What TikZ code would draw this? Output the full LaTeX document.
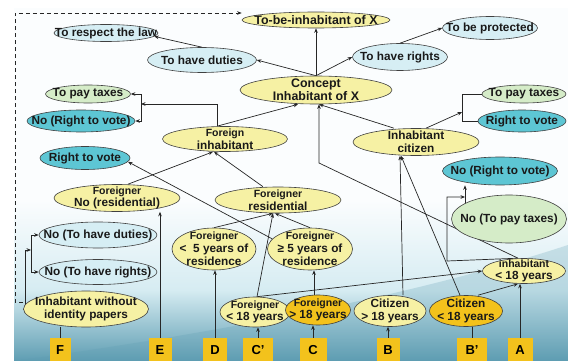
\documentclass[tikz,border=0pt]{standalone}
\usepackage{fontspec}
\setmainfont{Liberation Sans}
\usetikzlibrary{shapes.geometric,arrows.meta}
\pgfdeclarelayer{bg}
\pgfdeclarelayer{edges}
\pgfsetlayers{bg,edges,main}
\definecolor{yel}{HTML}{F6F1A4}
\definecolor{gold}{HTML}{F3C21C}
\definecolor{blu}{HTML}{D6EEF4}
\definecolor{tealc}{HTML}{5DC6D4}
\definecolor{grn}{HTML}{D5ECC8}
\definecolor{bgtop}{HTML}{FBFDFE}
\definecolor{bgmid}{HTML}{D6ECF2}
\definecolor{bgbot}{HTML}{5E9DB2}
\newcommand\sm{\fontsize{10.5}{12.5}\selectfont}
\newcommand\bg{\fontsize{12.4}{13.2}\selectfont}
\newcommand\bub[6]{%
  \node[#2, minimum width=#3pt, minimum height=#4pt] (#1) at (#5) {};
  \node[txt] (#1-t) at (#1) {#6};}
\begin{document}
\begin{tikzpicture}[x=1pt,y=-1pt,
  base/.style={ellipse, draw=black!75, line width=0.6pt, inner sep=0pt},
  yelb/.style={base, fill=yel},
  goldb/.style={base, fill=gold},
  blub/.style={base, fill=blu},
  tealb/.style={base, fill=tealc},
  grnb/.style={base, fill=grn},
  txt/.style={inner sep=0pt, align=center, text=black!90, font=\bfseries\fontsize{11.8}{12.8}\selectfont},
  sq/.style={fill=gold, inner sep=0pt, minimum height=24pt, font=\bfseries\fontsize{13}{14}\selectfont},
  ln/.style={draw=black!85, line width=0.7pt},
  arr/.style={ln, -{Stealth[length=4.5pt,width=3.6pt]}},
  dsh/.style={ln, dash pattern=on 4pt off 3pt}
]
\useasboundingbox (0,0) rectangle (568,361);
\begin{pgfonlayer}{bg}
  \fill[white] (0,0) rectangle (568,361);
  \fill[bgtop] (14,8) rectangle (568,200);
  \shade[top color=bgtop, bottom color=bgmid] (14,200) rectangle (568,290);
  \shade[top color=bgmid, bottom color=bgbot] (14,290) rectangle (568,361);
  \fill[bgbot, opacity=0.25] (14,361) .. controls (200,335) and (400,300) .. (568,245) -- (568,361) -- cycle;
\end{pgfonlayer}

\bub{tobe}{yelb}{148}{16}{316,20}{\bg To-be-inhabitant of X}
\bub{law}{blub}{104}{17}{106,33}{To respect the law}
\bub{duties}{blub}{109}{25}{202,60}{To have duties}
\bub{rights}{blub}{95}{27}{400,57}{To have rights}
\bub{protect}{blub}{95}{23}{490,28}{To be protected}
\bub{concept}{yelb}{152}{28}{316,90}{\bg Concept\\\bg Inhabitant of X}
\bub{taxL}{grnb}{85}{18}{88,94}{To pay taxes}
\bub{noVoteL}{tealb}{108}{22}{81,121}{No (Right to vote)}
\bub{voteL}{tealb}{90}{23}{85,158}{Right to vote}
\bub{finh}{yelb}{125}{25}{225,139}{{\sm Foreign}\\inhabitant}
\bub{cit}{yelb}{126}{27}{416,142}{Inhabitant\\citizen}
\bub{taxR}{grnb}{84}{18}{524,94}{To pay taxes}
\bub{voteR}{tealb}{88}{22}{522,121}{Right to vote}
\bub{noVoteR}{tealb}{115}{28}{500,171}{No (Right to vote)}
\bub{noTax}{grnb}{115}{48}{509,219}{No (To pay taxes)}
\bub{fnores}{yelb}{126}{27}{117,198}{{\sm Foreigner}\\No (residential)}
\bub{fres}{yelb}{126}{26}{278,200}{{\sm Foreigner}\\residential}
\bub{noDut}{blub}{118}{26}{98,235}{No (To have duties)}
\bub{noRig}{blub}{118}{25}{98,272}{No (To have rights)}
\bub{flt5}{yelb}{84}{42}{214,249}{{\sm Foreigner}\\<\ \ 5 years of\\residence}
\bub{fge5}{yelb}{85}{42}{310,249}{{\sm Foreigner}\\≥ 5 years of\\residence}
\bub{papers}{yelb}{125}{36}{86,309}{Inhabitant without\\identity papers}
\bub{flt18}{yelb}{70}{30}{255,312}{{\sm Foreigner}\\< 18 years}
\bub{fgt18}{goldb}{65}{30}{318,310}{{\sm Foreigner}\\> 18 years}
\bub{cgt18}{yelb}{72}{31}{390,311}{Citizen\\> 18 years}
\bub{clt18}{goldb}{73}{31}{466,311}{Citizen\\< 18 years}
\bub{inh18}{yelb}{83}{25}{524,271}{{\sm inhabitant}\\< 18 years}

\node[sq, minimum width=21pt] (F) at (60,350) {F};
\node[sq, minimum width=23pt] (E) at (160,350) {E};
\node[sq, minimum width=24pt] (D) at (215,350) {D};
\node[sq, minimum width=30pt] (Cp) at (258,350) {C'};
\node[sq, minimum width=27pt] (C) at (313,350) {C};
\node[sq, minimum width=23pt] (B) at (388,350) {B};
\node[sq, minimum width=30pt] (Bp) at (472,350) {B'};
\node[sq, minimum width=25pt] (A) at (520,350) {A};

\coordinate (dc) at (15,13);
\coordinate (j1a) at (25,250);
\coordinate (j1) at (31,250);
\coordinate (j2) at (141,104);
\coordinate (k1) at (319,163);
\coordinate (k2) at (447,261);
\coordinate (j3) at (465,197);
\coordinate (j3b) at (465,211);
\coordinate (j3c) at (473,211);
\coordinate (j4) at (462,112);

\begin{pgfonlayer}{edges}
\draw[arr] (concept.north) -- (tobe.south);
\draw[arr] (concept.north) -- (duties.east);
\draw[arr] (concept.north) -- (rights.west);
\draw[arr] (duties.north) -- (law.-4);
\draw[arr] (rights.north) -- (protect.west);
\draw[dsh,-{Stealth[length=4.5pt,width=3.6pt]}] ([yshift=7pt]papers.west) -| (dc) -- ([yshift=7pt]tobe.west);
\draw[arr] (papers.west) -| (j1a) -- (j1);
\draw[arr] (j1) |- (noDut.west);
\draw[arr] (j1) |- (noRig.west);
\draw[arr] ([xshift=-8pt]finh.north) |- (j2);
\draw[arr] (j2) |- (taxL.east);
\draw[arr] (j2) |- (noVoteL.east);
\draw[arr] ([xshift=-8pt]finh.north) -- ([xshift=-18pt]concept.south);
\draw[arr] ([xshift=-22pt]cit.north) -- ([xshift=3pt]concept.south);
\draw[arr] ([xshift=-6pt]inh18.north) -- (k1) -- ([xshift=3pt]concept.south);
\draw[arr] ([xshift=-6pt]inh18.north) -- (k2) |- (j3);
\draw[arr] (j3) -- (j3 |- noVoteR.south);
\draw[arr] (j3) -- (j3b) -- (j3c);
\draw[arr] ([xshift=10pt]cit.north) -- (j4);
\draw[ln] (j4) |- (taxR.west);
\draw[ln] (j4) |- (voteR.west);
\draw[arr] ([xshift=11pt]fnores.north) -- ([xshift=-12pt]finh.south);
\draw[arr] ([xshift=-15pt]fres.north) -- ([xshift=-11pt]finh.south);
\draw[arr] (flt5.north) -- ([xshift=-5pt]fres.south);
\draw[arr] (fge5.north) -- ([xshift=-3pt]fres.south);
\draw[arr] ([xshift=2pt]flt18.north) -- ([xshift=-5pt]fres.south);
\draw[arr] (fge5.165) -- (voteL.-5);
\draw[arr] ([xshift=2pt]flt18.north) -- (inh18.west);
\draw[arr] ([xshift=-4pt]fgt18.north) -- ([xshift=4pt]fge5.south);
\draw[arr] ([xshift=13pt]cgt18.north) -- ([xshift=-16pt]cit.south);
\draw[arr] ([xshift=-6pt]clt18.north) -- ([xshift=-15pt]cit.south);
\draw[arr] ([xshift=12pt]clt18.north) -- ([xshift=-6pt]inh18.south);
\draw[ln] (F.north) -- (F.north |- papers.south);
\draw[arr] (E.north) -- (E.north |- fnores.south);
\draw[arr] (D.north) -- (D.north |- flt5.south);
\draw[arr] (Cp.north) -- (Cp.north |- flt18.south);
\draw[arr] (C.north) -- (C.north |- fgt18.south);
\draw[arr] (B.north) -- (B.north |- cgt18.south);
\draw[ln] (Bp.north) -- (Bp.north |- clt18.south);
\draw[arr] (A.north) -- (A.north |- inh18.south);
\end{pgfonlayer}
\end{tikzpicture}
\end{document}
